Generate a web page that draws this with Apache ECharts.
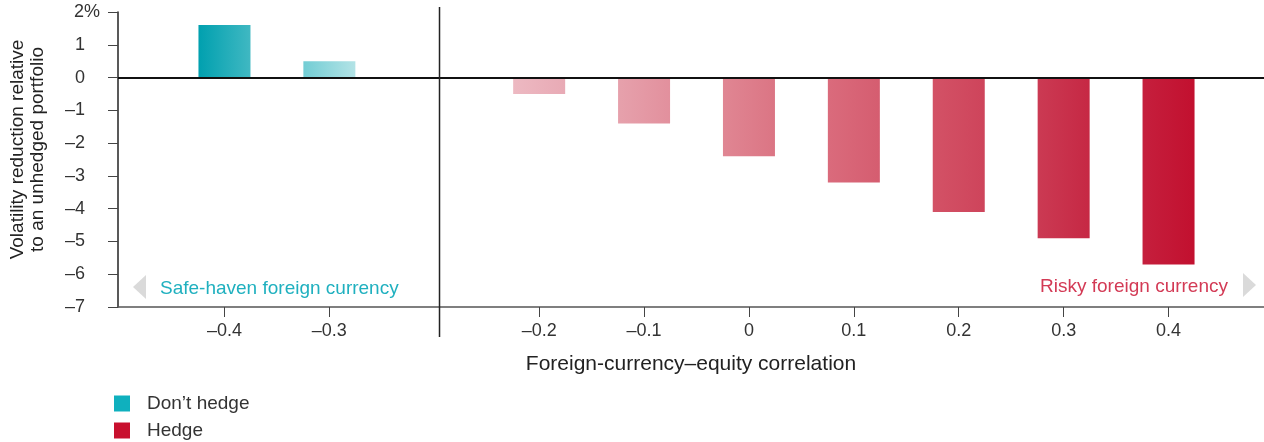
<!DOCTYPE html>
<html>
<head>
<meta charset="utf-8">
<script src="https://cdn.jsdelivr.net/npm/echarts@6/dist/echarts.min.js"></script>
<style>
  html, body { margin: 0; padding: 0; background: #fff; }
  #chart { width: 1264px; height: 442px; }
</style>
</head>
<body>
<div id="chart"></div>
<script>
// ---- Data ----
// Correlation categories; '' marks the gap slot where the divider sits
const categories = ['–0.4', '–0.3', '', '–0.2', '–0.1', '0', '0.1', '0.2', '0.3', '0.4'];
const dontHedge  = [1.6, 0.5, null, null, null, null, null, null, null, null];
const hedge      = [null, null, null, -0.5, -1.4, -2.4, -3.2, -4.1, -4.9, -5.7];
const yTicks     = [2, 1, 0, -1, -2, -3, -4, -5, -6, -7];
const seriesNames = ['Don’t hedge', 'Hedge'];

// ---- Styles ----
const FONT = '"Liberation Sans", Arial, sans-serif';
const TXT = '#333333';
const tealGrad = [['#00A0AF', '#40B8C2'], ['#72CDD4', '#B3E3E6']];
const redGrad = [
  ['#EDB9C2', '#E8AAB5'], ['#E6A1AC', '#E2909D'], ['#E08693', '#DB7584'],
  ['#DA6B7C', '#D55D70'], ['#D35266', '#CE445B'], ['#CB3A53', '#C62844'],
  ['#C51F3D', '#C2102F']
];
function grad(c) {
  return new echarts.graphic.LinearGradient(0, 0, 1, 0, [
    { offset: 0, color: c[0] }, { offset: 1, color: c[1] }
  ]);
}

let ti = 0, ri = 0;
const dontData = [], hedgeData = [];
categories.forEach((c, i) => {
  if (dontHedge[i] != null) dontData.push({ value: [i, dontHedge[i]], itemStyle: { color: grad(tealGrad[ti++]) } });
  if (hedge[i] != null) hedgeData.push({ value: [i, hedge[i]], itemStyle: { color: grad(redGrad[ri++]) } });
});
const labelIdx = categories.map((c, i) => c !== '' ? i : null).filter(v => v !== null);
const gapIdx = categories.indexOf('');

const chart = echarts.init(document.getElementById('chart'), null, { renderer: 'canvas' });

const option = {
  animation: false,
  backgroundColor: '#ffffff',
  textStyle: { fontFamily: FONT },
  grid: { left: 116, right: 0, top: 12, bottom: 135, containLabel: false },
  legend: {
    orient: 'vertical', left: 114, top: 394, height: 80, padding: 0,
    itemWidth: 16, itemHeight: 16, itemGap: 8, icon: 'rect',
    textStyle: { fontFamily: FONT, fontSize: 19, color: TXT, padding: [0, 0, 0, 12], lineHeight: 16 },
    data: [
      { name: seriesNames[0], itemStyle: { color: '#0FB0BE' } },
      { name: seriesNames[1], itemStyle: { color: '#C8102E' } }
    ]
  },
  xAxis: {
    type: 'value',
    min: -1.015, max: 9.91,
    name: 'Foreign-currency–equity correlation',
    nameLocation: 'middle', nameGap: 47,
    nameTextStyle: { fontFamily: FONT, fontSize: 21, color: '#222' },
    axisLine: { show: true, onZero: false, lineStyle: { color: '#555', width: 1.5 } },
    axisTick: { show: true, length: 10, customValues: labelIdx, lineStyle: { color: '#444', width: 1 } },
    axisLabel: {
      customValues: labelIdx, margin: 15,
      fontFamily: FONT, fontSize: 18, color: TXT,
      formatter: v => categories[Math.round(v)] || ''
    },
    splitLine: { show: false }
  },
  yAxis: {
    type: 'value', min: -7, max: 2, interval: 1,
    name: 'Volatility reduction relative\nto an unhedged portfolio',
    nameLocation: 'middle', nameGap: 70, nameRotate: 90,
    nameTextStyle: { fontFamily: FONT, fontSize: 19, color: '#222', lineHeight: 20, padding: [0, 0, 0, 20] },
    axisLine: { show: true, onZero: false, lineStyle: { color: '#222', width: 1.5 } },
    axisTick: { show: true, length: 10, lineStyle: { color: '#444', width: 1 } },
    axisLabel: {
      margin: 18, fontFamily: FONT, fontSize: 18, color: TXT, align: 'right',
      formatter: v => {
        const t = yTicks.indexOf(v) === 0 ? v + '%' : (v < 0 ? '–' + Math.abs(v) : String(v));
        return yTicks.indexOf(v) === 0 ? '{p|' + t + '}' : '{n|' + t + '}';
      },
      rich: {
        n: { fontFamily: FONT, fontSize: 18, color: TXT, padding: [0, 15, 0, 0] },
        p: { fontFamily: FONT, fontSize: 18, color: TXT, padding: [0, 0, 0, 0] }
      }
    },
    splitLine: { show: false }
  },
  series: [
    {
      name: seriesNames[0], type: 'bar', barWidth: 52, barGap: '-100%',
      itemStyle: { color: '#0FB0BE' },
      data: dontData,
      markLine: {
        silent: true, symbol: 'none', label: { show: false },
        lineStyle: { color: '#111', width: 2, type: 'solid' },
        data: [{ yAxis: 0 }]
      }
    },
    {
      name: seriesNames[1], type: 'bar', barWidth: 52, barGap: '-100%',
      itemStyle: { color: '#C8102E' },
      data: hedgeData
    }
  ]
};
chart.setOption(option);

// Divider and region annotations
const divX = chart.convertToPixel({ xAxisIndex: 0 }, gapIdx + 0.05);
const yTop = chart.convertToPixel({ yAxisIndex: 0 }, 2);
const yBot = chart.convertToPixel({ yAxisIndex: 0 }, -7);
chart.setOption({
  graphic: [
    { type: 'line', shape: { x1: divX, y1: yTop - 5, x2: divX, y2: yBot + 30 }, style: { stroke: '#222', lineWidth: 1.5 }, z: 10 },
    { type: 'polygon', shape: { points: [[146, 275], [146, 299], [133, 287]] }, style: { fill: '#DADADA' } },
    { type: 'text', x: 160, y: 289, style: { text: 'Safe-haven foreign currency', font: '19px ' + FONT, fill: '#1FB0BF', align: 'left', verticalAlign: 'middle' } },
    { type: 'polygon', shape: { points: [[1243, 273], [1243, 297], [1256, 285]] }, style: { fill: '#DADADA' } },
    { type: 'text', x: 1228, y: 287, style: { text: 'Risky foreign currency', font: '19px ' + FONT, fill: '#D33A55', align: 'right', verticalAlign: 'middle' } }
  ]
});
</script>
</body>
</html>
